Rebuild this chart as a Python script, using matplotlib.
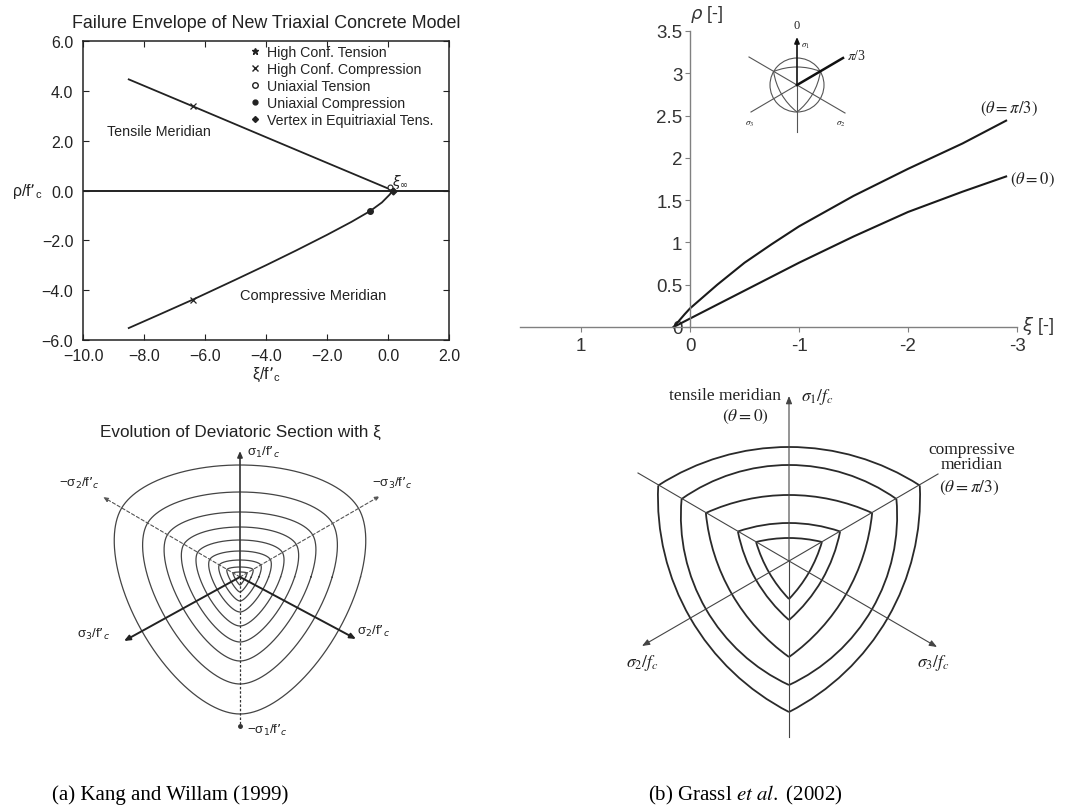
import numpy as np
import matplotlib
matplotlib.use("Agg")
import matplotlib.pyplot as plt
from matplotlib.lines import Line2D
from matplotlib.patches import Arc, Circle

W, H = 1073, 812
SANS = "Liberation Sans"
SERIF = "Liberation Serif"
INK = "#222222"

# ---- (a) Kang & Willam meridians (xi/f'c, rho/f'c)
kw_tens_xi = [-8.5, -6.4, -4.0, -2.0, 0.16]
kw_tens_rho = [4.46, 3.38, 2.14, 1.11, 0.0]
kw_comp_xi = [-8.5, -7.5, -6.4, -5.0, -4.0, -3.0, -2.0, -1.2, -0.58, -0.2, 0.05, 0.16]
kw_comp_rho = [-5.52, -4.98, -4.38, -3.58, -3.0, -2.4, -1.78, -1.26, -0.82, -0.48, -0.17, 0.0]
kw_legend = ["High Conf. Tension", "High Conf. Compression", "Uniaxial Tension",
             "Uniaxial Compression", "Vertex in Equitriaxial Tens."]
kw_xticks = [-10, -8, -6, -4, -2, 0, 2]
kw_yticks = [-6, -4, -2, 0, 2, 4, 6]

# ---- (a) deviatoric sections: tensile / compressive radius of each contour (px)
kw_rt = [112, 85, 65, 50, 37, 26, 17, 10, 5]
kw_rc = [137, 107, 84, 65, 49, 35, 24, 15, 8]

# ---- (b) Grassl et al. meridians
gr_pi3_xi = [0.15, 0.05, 0.0, -0.25, -0.5, -0.75, -1.0, -1.5, -2.0, -2.5, -2.9]
gr_pi3_rho = [0.0, 0.15, 0.22, 0.5, 0.76, 0.98, 1.19, 1.55, 1.87, 2.17, 2.44]
gr_0_xi = [0.15, 0.0, -0.5, -1.0, -1.5, -2.0, -2.5, -2.9]
gr_0_rho = [0.0, 0.1, 0.43, 0.76, 1.07, 1.36, 1.60, 1.78]
gr_xticks = [1, 0, -1, -2, -3]
gr_yticks = [0, 0.5, 1, 1.5, 2, 2.5, 3, 3.5]
gr_ylabels = ["0", "0.5", "1", "1.5", "2", "2.5", "3", "3.5"]

# ---- (b) deviatoric sections (px)
gr_rt = [114, 96, 66, 38, 23]
gr_rc = [151, 124, 96, 59, 38]


def px_axes(fig, x0, y0, x1, y1):
    return fig.add_axes([x0 / W, 1 - y1 / H, (x1 - x0) / W, (y1 - y0) / H])


def ww_radius(theta, rt, rc):
    """Willam-Warnke elliptic deviatoric radius."""
    c = np.cos(theta)
    d = rc ** 2 - rt ** 2
    num = 2 * rc * d * c + rc * (2 * rt - rc) * np.sqrt(4 * d * c ** 2 + 5 * rt ** 2 - 4 * rt * rc)
    den = 4 * d * c ** 2 + (rc - 2 * rt) ** 2
    return num / den


def ww_contour(ax, rt, rc, **kw):
    phi = np.linspace(0, 2 * np.pi, 721)
    t = np.mod(phi - np.pi / 2, 2 * np.pi / 3)
    theta = np.minimum(t, 2 * np.pi / 3 - t)
    r = ww_radius(theta, rt, rc)
    ax.plot(r * np.cos(phi), r * np.sin(phi), **kw)


def arc_contour(ax, rt, rc, **kw):
    """Three circular arcs through the compressive corners and tensile mid-points."""
    c = (rc ** 2 - rt ** 2) / (rc - 2 * rt)
    R = rt - c
    half = np.degrees(np.arctan2(rc * np.sin(np.pi / 3), rc * np.cos(np.pi / 3) - c))
    for mid in (90, 210, 330):
        u = np.radians(mid)
        ax.add_patch(Arc((c * np.cos(u), c * np.sin(u)), 2 * R, 2 * R,
                         theta1=mid - half, theta2=mid + half, **kw))


def arrow(ax, x0, y0, x1, y1, lw=1.0, color=INK, hl=0.5, hw=0.2, ls="-"):
    ax.annotate("", xy=(x1, y1), xytext=(x0, y0),
                arrowprops=dict(arrowstyle=f"-|>,head_length={hl},head_width={hw}",
                                lw=lw, color=color, ls=ls, shrinkA=0, shrinkB=0))


fig = plt.figure(figsize=(W / 100, H / 100), dpi=100)
fig.patch.set_facecolor("white")

# ════════════════════════════ (a) top: meridians
ax = px_axes(fig, 83, 42, 449, 341)
ax.plot(kw_tens_xi, kw_tens_rho, color=INK, lw=1.3)
ax.plot(kw_comp_xi, kw_comp_rho, color=INK, lw=1.3)
ax.axhline(0, color=INK, lw=1.4)
ax.plot([kw_tens_xi[1], kw_comp_xi[2]], [kw_tens_rho[1], kw_comp_rho[2]], "x",
        color=INK, ms=4, mew=0.9)
ax.plot([0.07], [0.16], "o", mfc="white", mec=INK, ms=3.5, mew=0.8)
ax.plot([kw_comp_xi[8]], [kw_comp_rho[8]], "o", color=INK, ms=4)
ax.plot([kw_tens_xi[-1]], [0.0], "D", color=INK, ms=3.5)
ax.text(0.12, 0.22, r"$\xi_\infty$", fontsize=10, color=INK)
ax.text(-9.2, 2.4, "Tensile Meridian", fontsize=10.3, family=SANS, color=INK, va="center")
ax.text(-4.85, -4.2, "Compressive Meridian", fontsize=10.5, family=SANS, color=INK, va="center")
ax.set_xlim(-10, 2)
ax.set_ylim(-6, 6)
ax.set_xticks(kw_xticks)
ax.set_yticks(kw_yticks)
ax.set_xticklabels([f"{v:.1f}".replace("-", "\u2212") for v in kw_xticks], family=SANS, fontsize=11.5)
ax.set_yticklabels([f"{v:.1f}".replace("-", "\u2212") for v in kw_yticks], family=SANS, fontsize=11.5)
ax.tick_params(direction="in", top=True, right=True, length=4, color=INK, labelcolor=INK)
ax.tick_params(axis="x", pad=6)
ax.tick_params(axis="y", pad=7)
for s in ax.spines.values():
    s.set_color(INK)
    s.set_linewidth(1.1)
ax.set_title("Failure Envelope of New Triaxial Concrete Model", family=SANS, fontsize=12.9,
             color=INK, pad=10)
ax.set_xlabel("\u03be/f\u2019$_\\mathregular{c}$", family=SANS, fontsize=11.5, color=INK, labelpad=1)
ax.text(-0.194, 0.5, "\u03c1/f\u2019$_\\mathregular{c}$", transform=ax.transAxes, family=SANS,
        fontsize=11.5, color=INK, va="center", ha="left")
handles = [Line2D([], [], ls="none", marker="*", color=INK, ms=5),
           Line2D([], [], ls="none", marker="x", color=INK, ms=4),
           Line2D([], [], ls="none", marker="o", mfc="white", mec=INK, ms=4),
           Line2D([], [], ls="none", marker="o", color=INK, ms=3.5),
           Line2D([], [], ls="none", marker="D", color=INK, ms=3)]
ax.legend(handles, kw_legend, loc="upper left", bbox_to_anchor=(0.45, 1.0), frameon=False,
          prop=dict(family=SANS, size=10.2), handlelength=0.6, handletextpad=0.5,
          labelspacing=0.22, borderaxespad=0.0, borderpad=0.25, labelcolor=INK)

# ════════════════════════════ (b) top: meridians
bx = px_axes(fig, 520, 32, 1017, 328)
bx.plot(gr_pi3_xi, gr_pi3_rho, color="#1a1a1a", lw=1.5, clip_on=False)
bx.plot(gr_0_xi, gr_0_rho, color="#1a1a1a", lw=1.5, clip_on=False)
bx.set_xlim(1.56, -3.0)
bx.set_ylim(0, 3.5)
bx.spines["left"].set_position(("data", 0))
bx.spines["top"].set_visible(False)
bx.spines["right"].set_visible(False)
for s in ("left", "bottom"):
    bx.spines[s].set_color("#808080")
    bx.spines[s].set_linewidth(1.0)
bx.set_xticks(gr_xticks)
bx.set_xticklabels([str(v) for v in gr_xticks], family=SANS, fontsize=13.5)
bx.set_yticks(gr_yticks)
bx.set_yticklabels(gr_ylabels, family=SANS, fontsize=13.5)
bx.tick_params(length=3.5, color="#808080", labelcolor="#333333", pad=2)
bx.tick_params(axis="x", pad=4)
bx.text(0.0, 3.58, r"$\rho$ [-]", fontsize=13, family=SANS, color="#333333", ha="left",
        va="bottom")
bx.text(-3.05, 0.02, r"$\xi$ [-]", fontsize=13, family=SANS, color="#333333", ha="left",
        va="center")
bx.annotate(r"$(\theta = \pi/3)$", xy=(gr_pi3_xi[-1], gr_pi3_rho[-1]), xytext=(2, 9),
            textcoords="offset points", ha="center", va="center", fontsize=12,
            math_fontfamily="stix", color=INK)
bx.annotate(r"$(\theta = 0)$", xy=(gr_0_xi[-1], gr_0_rho[-1]), xytext=(3, -2),
            textcoords="offset points", ha="left", va="center", fontsize=12,
            math_fontfamily="stix", color=INK)

# inset sketch (units: px around its centre)
ix = px_axes(fig, 732, 16, 892, 146)
ix.set_xlim(-65, 95)
ix.set_ylim(-60, 70)
ix.axis("off")
g = "#555555"
ix.add_patch(Circle((0, 0), 27, fill=False, ec=g, lw=0.8))
arc_contour(ix, 18, 27, ec=g, lw=0.8)
ix.plot([0, 0], [-47, 0], color=g, lw=0.8)
arrow(ix, 0, 0, 0, 48, lw=1.2, color="#111111", hl=0.35, hw=0.15)
ix.plot([-48, 48], [28, -28], color=g, lw=0.8)
ix.plot([-46, 0], [-27, 0], color=g, lw=0.8)
ix.plot([0, 46], [0, 27], color="#111111", lw=1.8)
ix.text(0, 54, "0", fontsize=9, family=SERIF, ha="center", va="bottom", color=INK)
ix.text(4, 40, r"$\sigma_1$", fontsize=6.5, math_fontfamily="stix", va="center", color=INK)
ix.text(50, 30, r"$\pi$/3", fontsize=10, math_fontfamily="stix", family=SERIF, va="center",
        color=INK)
ix.text(-47, -40, r"$\sigma_3$", fontsize=6.5, math_fontfamily="stix", ha="center", color=INK)
ix.text(44, -40, r"$\sigma_2$", fontsize=6.5, math_fontfamily="stix", ha="center", color=INK)

# ════════════════════════════ (a) bottom: deviatoric sections
cx = px_axes(fig, 40, 430, 440, 760)
cx.set_xlim(-200, 200)
cx.set_ylim(-182, 148)
cx.axis("off")
for rt, rc in zip(kw_rt, kw_rc):
    ww_contour(cx, rt, rc, color="#444444", lw=0.9)
cg = "#333333"
arrow(cx, 0, 0, 0, 126, lw=1.2, color=cg, hl=0.35, hw=0.15)
cx.plot([0, 0], [0, -148], color=cg, lw=0.9, ls=(0, (2, 1.5)))
cx.plot([0], [-149], "o", color=cg, ms=2.5)
arrow(cx, 0, 0, -137, 80, lw=0.8, color="#555555", hl=0.3, hw=0.12, ls=(0, (3, 2)))
arrow(cx, 0, 0, 140, 81, lw=0.8, color="#555555", hl=0.3, hw=0.12, ls=(0, (3, 2)))
arrow(cx, 0, 0, -116, -64, lw=1.4, color="#222222", hl=0.35, hw=0.15)
arrow(cx, 0, 0, 116, -62, lw=1.4, color="#222222", hl=0.35, hw=0.15)
cx.text(0, 146, "Evolution of Deviatoric Section with \u03be", fontsize=12.3, family=SANS,
        ha="center", va="center", color=INK)
lab = dict(fontsize=9.5, family=SANS, color=INK, math_fontfamily="dejavusans")
cx.text(7, 126, "\u03c3$_1$/f\u2019$_c$", va="center", **lab)
cx.text(7, -152, "\u2212\u03c3$_1$/f\u2019$_c$", va="center", **lab)
cx.text(-140, 95, "\u2212\u03c3$_2$/f\u2019$_c$", ha="right", va="center", **lab)
cx.text(132, 95, "\u2212\u03c3$_3$/f\u2019$_c$", ha="left", va="center", **lab)
cx.text(-130, -56, "\u03c3$_3$/f\u2019$_c$", ha="right", va="center", **lab)
cx.text(117, -53, "\u03c3$_2$/f\u2019$_c$", ha="left", va="center", **lab)

# ════════════════════════════ (b) bottom: deviatoric sections
dx = px_axes(fig, 600, 380, 1060, 760)
dx.set_xlim(-189, 271)
dx.set_ylim(-198, 182)
dx.axis("off")
for rt, rc in zip(gr_rt, gr_rc):
    arc_contour(dx, rt, rc, ec="#2a2a2a", lw=1.3)
ag = "#444444"
dx.plot([0, 0], [-176, 0], color=ag, lw=0.8)
arrow(dx, 0, 0, 0, 165, lw=0.8, color=ag, hl=0.45, hw=0.18)
dx.plot([-151, 0], [88, 0], color=ag, lw=0.8)
arrow(dx, 0, 0, 148, -86, lw=0.8, color=ag, hl=0.45, hw=0.18)
dx.plot([0, 149], [0, 87], color=ag, lw=0.8)
arrow(dx, 0, 0, -147, -85, lw=0.8, color=ag, hl=0.45, hw=0.18)
st = dict(fontsize=12.5, family=SERIF, color=INK, math_fontfamily="stix")
dx.text(-8, 166, "tensile meridian", ha="right", va="center", **st)
dx.text(-44, 145, r"$(\theta = 0)$", ha="center", va="center", **st)
dx.text(12, 165, r"$\sigma_1/f_c$", ha="left", va="center", **st)
dx.text(183, 112, "compressive", ha="center", va="center", **st)
dx.text(183, 97, "meridian", ha="center", va="center", **st)
dx.text(180, 74, r"$(\theta = \pi/3)$", ha="center", va="center", **st)
dx.text(-147, -101, r"$\sigma_2/f_c$", ha="center", va="center", **st)
dx.text(144, -101, r"$\sigma_3/f_c$", ha="center", va="center", **st)

# ════════════════════════════ captions
cap = dict(fontsize=15, family=SERIF, color="black", math_fontfamily="stix", va="baseline")
fig.text(52 / W, 1 - 800 / H, "(a) Kang and Willam (1999)", **cap)
fig.text(648 / W, 1 - 800 / H, r"(b) Grassl $\mathit{et\ al.}$ (2002)", **cap)

fig.savefig("out.png", dpi=100)
